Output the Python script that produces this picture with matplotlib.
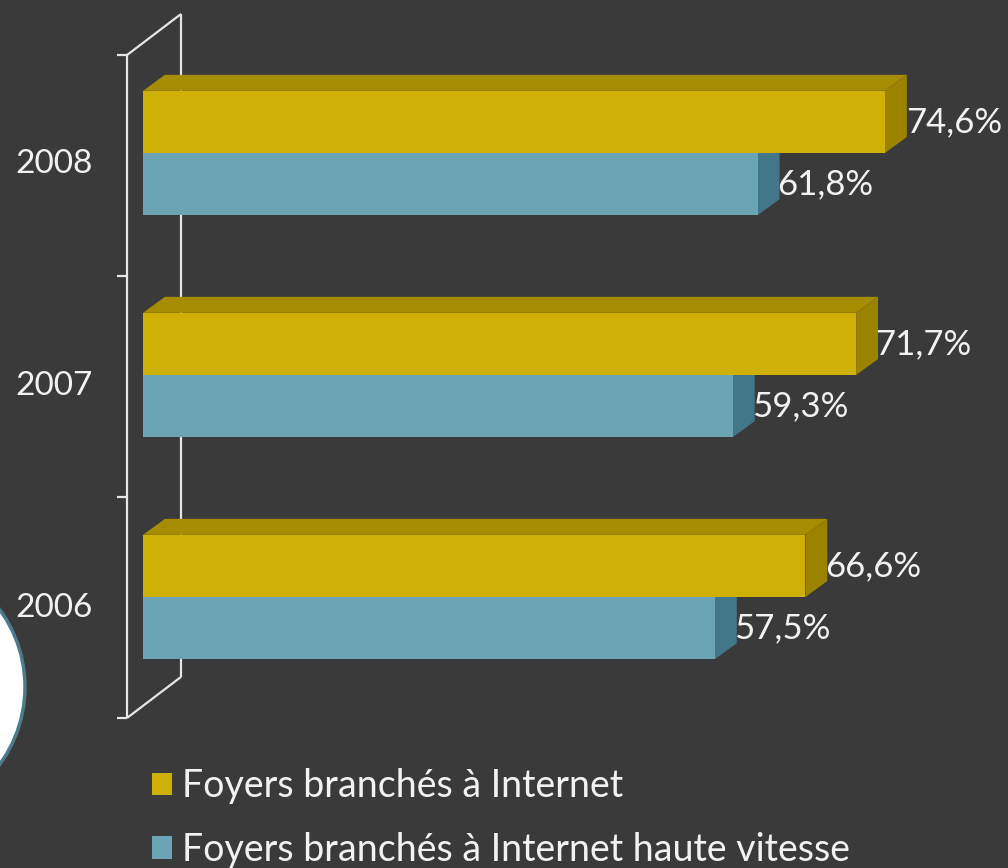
import matplotlib
matplotlib.use("Agg")
import matplotlib.pyplot as plt
from matplotlib.patches import Polygon, Patch, Circle

# data
years = ["2006", "2007", "2008"]
internet = [66.6, 71.7, 74.6]
haute_vitesse = [57.5, 59.3, 61.8]
series_names = ["Foyers branchés à Internet",
                "Foyers branchés à Internet haute vitesse"]

bg = "#3a3a3a"
txt = "#f2f2f2"
yellow = {"front": "#cfb007", "top": "#a58c00", "side": "#9b8300"}
blue = {"front": "#6ba4b4", "top": "#4f8292", "side": "#44768a"}

plt.rcParams["font.family"] = ["Lato", "DejaVu Sans"]

fig = plt.figure(figsize=(10.08, 8.68), dpi=100, facecolor=bg)
ax = fig.add_axes([0, 0, 1, 1], facecolor=bg)
# 1 unit on x = one percent, 1 unit on y = one category
ax.set_xlim(-14.38, 86.97)
ax.set_ylim(-1.2207, 2.689)
ax.axis("off")

h = 0.28          # bar thickness
ddx, ddy = 2.2, 0.072   # depth offset of the bars
pos = list(range(len(years)))

# back wall / axis frame
wx0, wx1 = -1.61, 3.82
wtop, wbot, wshift = 2.441, -0.545, 0.185
lc = dict(color="#e6e6e6", lw=1.6, solid_capstyle="butt")
ax.plot([wx0, wx0], [wbot, wtop], zorder=5, **lc)
ax.plot([wx1, wx1], [wbot + wshift, wtop + wshift], zorder=1, **lc)
ax.plot([wx0, wx1], [wtop, wtop + wshift], zorder=5, **lc)
ax.plot([wx0, wx1], [wbot, wbot + wshift], zorder=5, **lc)
for k in range(len(years) + 1):
    yk = wbot + k * (wtop - wbot) / len(years)
    ax.plot([wx0 - 1.0, wx0], [yk, yk], zorder=5, **lc)


def bar3d(vals, y0s, col):
    for v, y0 in zip(vals, y0s):
        y1 = y0 + h
        top = [(0, y1), (ddx, y1 + ddy), (v + ddx, y1 + ddy), (v, y1)]
        side = [(v, y0), (v + ddx, y0 + ddy), (v + ddx, y1 + ddy), (v, y1)]
        ax.add_patch(Polygon(top, closed=True, fc=col["top"], ec="none", zorder=2))
        ax.add_patch(Polygon(side, closed=True, fc=col["side"], ec="none", zorder=2))
    ax.barh(y0s, vals, height=h, left=0, align="edge",
            color=col["front"], edgecolor="none", zorder=3)


bar3d(haute_vitesse, [p - h for p in pos], blue)
bar3d(internet, pos, yellow)

# value labels
xmax = ax.get_xlim()[1]
for vals, off in ((internet, h / 2), (haute_vitesse, -h / 2)):
    for v, p in zip(vals, pos):
        s = f"{v:.1f}%".replace(".", ",")
        if v + 1.95 + 11.2 > xmax:
            ax.text(xmax - 0.6, p + off, s, ha="right", va="center",
                    fontsize=25, color=txt, zorder=6)
        else:
            ax.text(v + 1.95, p + off, s, ha="left", va="center",
                    fontsize=25, color=txt, zorder=6)

# category labels
for y, p in zip(years, pos):
    ax.text(-5.1, p - 0.05, y, ha="right", va="center",
            fontsize=24, color=txt)

# decorative circle from the slide (in inches, so it stays round)
fig.patches.append(Circle((-1.06, 1.81), 1.31, transform=fig.dpi_scale_trans,
                          fc="white", ec="#4d7b8b", lw=2.5, zorder=4))

handles = [Patch(fc=yellow["front"], ec="none"), Patch(fc=blue["front"], ec="none")]
ax.legend(handles, series_names, loc="upper left",
          bbox_to_anchor=(0.151, 0.1152), bbox_transform=fig.transFigure,
          frameon=False, fontsize=27, labelcolor=txt,
          handlelength=0.53, handleheight=0.53, handletextpad=0.27,
          labelspacing=0.74, borderaxespad=0, borderpad=0)

fig.savefig("out.png", dpi=100, facecolor=bg)
